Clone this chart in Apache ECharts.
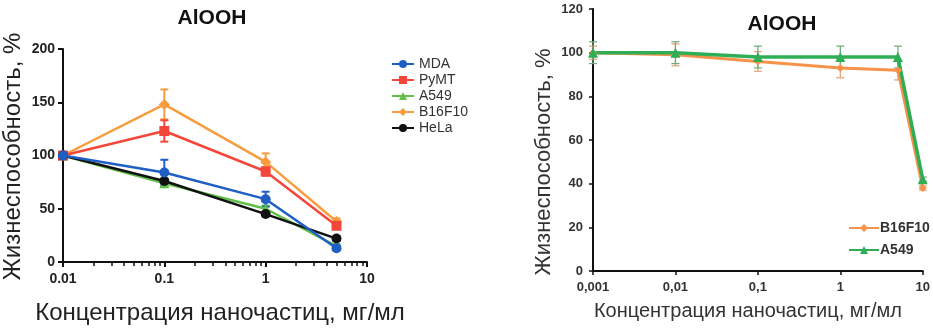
<!DOCTYPE html>
<html>
<head>
<meta charset="utf-8">
<script src="https://cdn.jsdelivr.net/npm/echarts@6/dist/echarts.min.js"></script>
<style>
html,body{margin:0;padding:0;background:#fff;}
#chart{width:933px;height:330px;}
</style>
</head>
<body>
<div id="chart"></div>
<script>
// ---- Left panel data ----
const leftConc = [0.01, 0.1, 1, 5];
const leftNames = ['MDA', 'PyMT', 'A549', 'B16F10', 'HeLa'];
const mdaVal = [100, 84, 59, 13];
const mdaErr = [0, 12, 7, 2];
const pymtVal = [100, 123, 85, 34];
const pymtErr = [0, 10, 4, 3];
const a549Val = [100, 74, 50, 15];
const a549Err = [0, 3, 3, 2];
const b16Val = [100, 148, 94, 38];
const b16Err = [0, 14, 8, 3];
const helaVal = [100, 76, 45, 22];
const helaErr = [0, 2, 2, 2];
const leftXTicks = ['0.01', '0.1', '1', '10'];

// ---- Right panel data ----
const rightConc = [0.001, 0.01, 0.1, 1, 5, 10];
const rightNames = ['B16F10', 'A549'];
const b16RVal = [100, 99, 96, 93, 92, 38];
const b16RErr = [3, 5, 4.5, 4.5, 4.5, 1];
const a549RVal = [100, 100, 98, 98, 98, 42];
const a549RErr = [5, 5, 5, 5, 5, 1];

const titleText = 'AlOOH';
const yName = 'Жизнеспособность, %';
const xName = 'Концентрация наночастиц, мг/мл';

const FONT = 'Liberation Sans, Arial, sans-serif';

function pts(xs, ys) { return xs.map((x, i) => [x, ys[i]]); }
function errs(xs, ys, es) { return xs.map((x, i) => [x, ys[i] - es[i], ys[i] + es[i]]); }

function errSeries(name, xs, ys, es, color, axisIdx, capW, lw) {
  return {
    type: 'custom', name: name, xAxisIndex: axisIdx, yAxisIndex: axisIdx,
    data: errs(xs, ys, es), z: 1, silent: true,
    encode: { x: 0, y: [1, 2] },
    renderItem: function (params, api) {
      const x = api.value(0);
      const lo = api.coord([x, api.value(1)]);
      const hi = api.coord([x, api.value(2)]);
      const st = { stroke: color, lineWidth: lw };
      return {
        type: 'group', children: [
          { type: 'line', shape: { x1: lo[0], y1: lo[1], x2: hi[0], y2: hi[1] }, style: st },
          { type: 'line', shape: { x1: hi[0] - capW, y1: hi[1], x2: hi[0] + capW, y2: hi[1] }, style: st },
          { type: 'line', shape: { x1: lo[0] - capW, y1: lo[1], x2: lo[0] + capW, y2: lo[1] }, style: st }
        ]
      };
    }
  };
}

function lineSeries(name, xs, ys, color, symbol, size, axisIdx, lw) {
  return {
    type: 'line', name: name, xAxisIndex: axisIdx, yAxisIndex: axisIdx,
    data: pts(xs, ys), symbol: symbol, symbolSize: size, showSymbol: true,
    lineStyle: { color: color, width: lw }, itemStyle: { color: color },
    z: 3, animation: false
  };
}

const C = {
  mda: '#1f5fc4', pymt: '#f2473a', a549: '#62c04a', b16: '#f89c3e', hela: '#111111',
  b16R: '#f7924a', a549R: '#2fae55'
};

const axisLine = { show: true, lineStyle: { color: '#111', width: 2 } };
const labelStyle = { color: '#222', fontWeight: 'bold', fontSize: 14, fontFamily: FONT };

const option = {
  animation: false,
  backgroundColor: '#fff',
  title: [
    { text: titleText, left: 207, top: 3, textAlign: 'center',
      textStyle: { fontFamily: FONT, fontWeight: 'bold', fontSize: 21, color: '#111' } },
    { text: titleText, left: 777, top: 9, textAlign: 'center',
      textStyle: { fontFamily: FONT, fontWeight: 'bold', fontSize: 21, color: '#111' } }
  ],
  legend: [
    { data: leftNames, orient: 'vertical', left: 386, top: 52, itemWidth: 22, itemHeight: 10, itemGap: 2,
      textStyle: { fontFamily: FONT, fontSize: 14, color: '#333' } },
    { data: rightNames.map(n => n + '_R'), orient: 'vertical', left: 843, top: 216, itemWidth: 30, itemHeight: 10, itemGap: 8,
      formatter: n => n.replace('_R', ''),
      textStyle: { fontFamily: FONT, fontSize: 14, fontWeight: 'bold', color: '#333', padding: [0, 0, 0, -4] } }
  ],
  grid: [
    { left: 62, top: 49, width: 305, height: 214 },
    { left: 593, top: 9, width: 330, height: 262 }
  ],
  xAxis: [
    { type: 'log', logBase: 10, min: 0.01, max: 10, gridIndex: 0,
      axisLine: axisLine,
      axisTick: { show: true, length: 5, lineStyle: { color: '#111', width: 2 } },
      minorTick: { show: true, splitNumber: 9, length: 4, lineStyle: { color: '#111', width: 1.5 } },
      splitLine: { show: false }, minorSplitLine: { show: false },
      axisLabel: Object.assign({ margin: 10, formatter: v => leftXTicks[Math.round(Math.log10(v)) + 2] }, labelStyle),
      name: xName, nameLocation: 'middle', nameGap: 39,
      nameTextStyle: { fontFamily: FONT, fontSize: 24, color: '#222', padding: [0, 0, 0, 10] } },
    { type: 'log', logBase: 10, min: 0.001, max: 10, gridIndex: 1,
      axisLine: axisLine,
      axisTick: { show: true, length: 4, lineStyle: { color: '#111', width: 1.5 } },
      splitLine: { show: false },
      axisLabel: Object.assign({ margin: 10, formatter: v => String(v).replace('.', ',') }, labelStyle, { color: '#333', fontSize: 13 }),
      name: xName, nameLocation: 'middle', nameGap: 30,
      nameTextStyle: { fontFamily: FONT, fontSize: 20, color: '#333', padding: [0, 20, 0, 0] } }
  ],
  yAxis: [
    { type: 'value', min: 0, max: 200, interval: 50, gridIndex: 0,
      axisLine: axisLine,
      axisTick: { show: true, length: 5, lineStyle: { color: '#111', width: 2 } },
      splitLine: { show: false },
      axisLabel: Object.assign({ margin: 8 }, labelStyle),
      name: yName, nameLocation: 'middle', nameGap: 38,
      nameTextStyle: { fontFamily: FONT, fontSize: 24, color: '#222', padding: [0, 2, 0, 0] } },
    { type: 'value', min: 0, max: 120, interval: 20, gridIndex: 1,
      axisLine: axisLine,
      axisTick: { show: true, length: 4, lineStyle: { color: '#111', width: 1.5 } },
      splitLine: { show: false },
      axisLabel: Object.assign({ margin: 10 }, labelStyle, { color: '#333', fontSize: 13 }),
      name: yName, nameLocation: 'middle', nameGap: 38,
      nameTextStyle: { fontFamily: FONT, fontSize: 22, color: '#333', padding: [0, 44, 0, 0] } }
  ],
  series: [
    errSeries('errA549', leftConc, a549Val, a549Err, C.a549, 0, 4, 2),
    errSeries('errB16', leftConc, b16Val, b16Err, C.b16, 0, 4, 2),
    errSeries('errPyMT', leftConc, pymtVal, pymtErr, C.pymt, 0, 4, 2),
    errSeries('errHeLa', leftConc, helaVal, helaErr, C.hela, 0, 4, 2),
    errSeries('errMDA', leftConc, mdaVal, mdaErr, C.mda, 0, 4, 2),
    lineSeries('A549', leftConc, a549Val, C.a549, 'triangle', 10, 0, 2.5),
    lineSeries('B16F10', leftConc, b16Val, C.b16, 'diamond', 11, 0, 2.5),
    lineSeries('PyMT', leftConc, pymtVal, C.pymt, 'rect', 10, 0, 2.5),
    lineSeries('HeLa', leftConc, helaVal, C.hela, 'circle', 10, 0, 2.5),
    lineSeries('MDA', leftConc, mdaVal, C.mda, 'circle', 10, 0, 2.5),
    errSeries('errB16R', rightConc, b16RVal, b16RErr, '#e0a070', 1, 4, 1.2),
    errSeries('errA549R', rightConc, a549RVal, a549RErr, '#6aa87a', 1, 4, 1.2),
    lineSeries('B16F10_R', rightConc, b16RVal, C.b16R, 'diamond', 8, 1, 3),
    lineSeries('A549_R', rightConc, a549RVal, C.a549R, 'triangle', 10, 1, 3.5)
  ]
};

const chart = echarts.init(document.getElementById('chart'), null, { renderer: 'canvas' });
chart.setOption(option);
</script>
</body>
</html>
